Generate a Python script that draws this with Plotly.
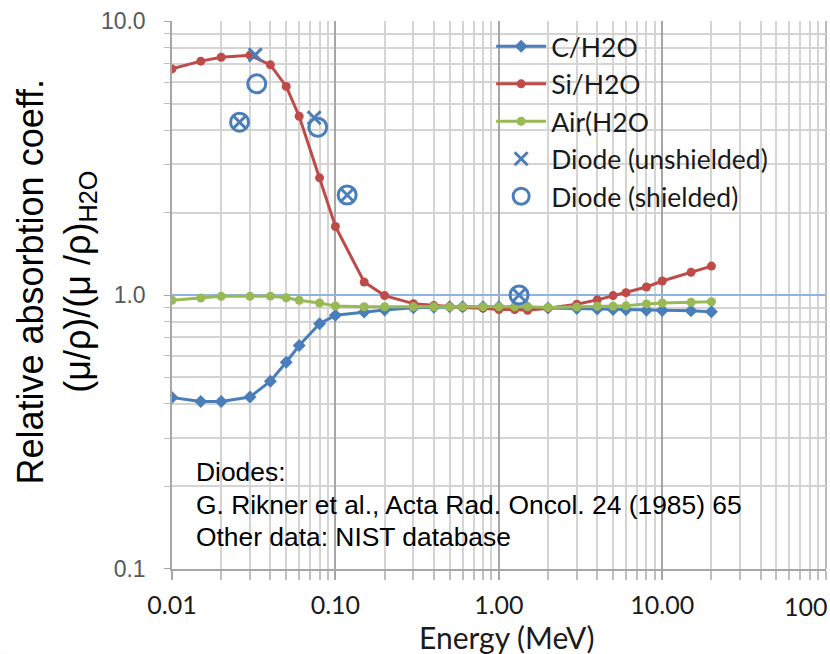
import plotly.graph_objects as go

# Photon energies (MeV) of the NIST tabulation
energy = [0.01, 0.015, 0.02, 0.03, 0.04, 0.05, 0.06, 0.08, 0.1, 0.15, 0.2, 0.3,
          0.4, 0.5, 0.6, 0.8, 1.0, 1.25, 1.5, 2, 3, 4, 5, 6, 8, 10, 15, 20]

# Mass absorption coefficient ratios relative to water
c_h2o = [0.422, 0.408, 0.408, 0.424, 0.484, 0.568, 0.654, 0.786, 0.843, 0.867,
         0.882, 0.898, 0.903, 0.905, 0.905, 0.905, 0.905, 0.903, 0.900, 0.897,
         0.893, 0.888, 0.885, 0.883, 0.880, 0.878, 0.875, 0.868]
si_h2o = [6.70, 7.15, 7.39, 7.52, 6.93, 5.78, 4.50, 2.68, 1.78, 1.115, 0.995,
          0.930, 0.915, 0.905, 0.900, 0.895, 0.885, 0.885, 0.880, 0.895, 0.925,
          0.960, 0.995, 1.020, 1.070, 1.125, 1.210, 1.275]
air_h2o = [0.957, 0.975, 0.989, 0.989, 0.990, 0.977, 0.957, 0.935, 0.912, 0.906,
           0.906, 0.906, 0.906, 0.906, 0.906, 0.906, 0.906, 0.906, 0.906, 0.900,
           0.904, 0.910, 0.910, 0.913, 0.928, 0.935, 0.940, 0.945]

# Diode measurements (Rikner et al. 1985)
diode_u_energy = [0.0259, 0.0323, 0.0741, 0.118, 1.33]
diode_u_ratio = [4.28, 7.54, 4.44, 2.32, 1.0]
diode_s_energy = [0.0259, 0.033, 0.078, 0.118, 1.33]
diode_s_ratio = [4.28, 5.91, 4.10, 2.32, 1.0]

# the last decade label sits against the right border, so it is placed separately
x_tickvals = [0.01, 0.1, 1, 10]
x_ticktext = ["0.01", "0.10", "1.00", "10.00"]
x_edge_label = "100"
y_tickvals = [0.1, 1, 10]
y_ticktext = ["0.1", "1.0", "10.0"]

BLUE = "#4A7EBB"
RED = "#BE4B48"
GREEN = "#98B954"
TICK_FONT = dict(family="Lato", size=25, color="#1a1a1a")
LEGEND_FONT = dict(family="Lato", size=26.5, color="#1a1a1a")

fig = go.Figure()
fig.add_trace(go.Scatter(x=energy, y=c_h2o, name="C/H2O", mode="lines+markers",
                         line=dict(color=BLUE, width=3),
                         marker=dict(symbol="diamond", size=10, color=BLUE)))
fig.add_trace(go.Scatter(x=energy, y=si_h2o, name="Si/H2O", mode="lines+markers",
                         line=dict(color=RED, width=3),
                         marker=dict(symbol="circle", size=9, color=RED)))
fig.add_trace(go.Scatter(x=energy, y=air_h2o, name="Air(H2O", mode="lines+markers",
                         line=dict(color=GREEN, width=3),
                         marker=dict(symbol="circle", size=9, color=GREEN)))
fig.add_trace(go.Scatter(x=diode_u_energy, y=diode_u_ratio, name="Diode (unshielded)",
                         mode="markers",
                         marker=dict(symbol="x-thin-open", size=13, color=BLUE,
                                     line=dict(color=BLUE, width=3))))
fig.add_trace(go.Scatter(x=diode_s_energy, y=diode_s_ratio, name="Diode (shielded)",
                         mode="markers",
                         marker=dict(symbol="circle-open", size=18, color=BLUE,
                                     line=dict(color=BLUE, width=3))))

minor_vals = [m * 10 ** e for e in range(-3, 3) for m in range(2, 10)]
major_grid_x = x_tickvals + [100]

fig.update_xaxes(
    type="log", range=[-2, 2.002], automargin=False,
    tickvals=x_tickvals, ticktext=x_ticktext,
    tickfont=TICK_FONT, ticklabelstandoff=4,
    ticks="outside", ticklen=9, tickcolor="#A6A6A6", tickwidth=1.5,
    showgrid=True, gridcolor="#A6A6A6", gridwidth=1.5,
    showline=True, linecolor="#A6A6A6", linewidth=1.5,
    minor=dict(tickvals=minor_vals + [100], ticks="outside", ticklen=9,
               tickcolor="#BFBFBF", showgrid=True, gridcolor="#D4D4D4",
               gridwidth=1.5),
)
fig.update_yaxes(
    type="log", range=[-1.001, 1.001], automargin=False,
    tickvals=y_tickvals, ticktext=y_ticktext,
    tickfont=dict(family="Liberation Sans", size=23, color="#595959"),
    ticklabelstandoff=14,
    ticks="outside", ticklen=6, tickcolor="#A6A6A6",
    showgrid=True, gridcolor="#8DB4E2", gridwidth=1.5,
    showline=True, linecolor="#A6A6A6", linewidth=1.5,
    minor=dict(tickvals=minor_vals, ticks="outside", ticklen=6,
               tickcolor="#BFBFBF", showgrid=True, gridcolor="#D4D4D4",
               gridwidth=1.5),
)

# darker border line at the last decade on the right
fig.add_shape(type="line", xref="paper", yref="paper", x0=1, x1=1, y0=0, y1=1,
              layer="between", line=dict(color="#A6A6A6", width=1.5))
# white panel behind the legend, above the grid
fig.add_shape(type="rect", xref="paper", yref="paper", layer="between",
              x0=0.426, x1=0.99, y0=0.652, y1=0.988,
              fillcolor="white", line=dict(width=0))
# green slide accent at the lower left corner
fig.add_shape(type="rect", xref="paper", yref="paper",
              x0=-0.263, x1=-0.248, y0=-0.155, y1=-0.2,
              fillcolor="#7DC242", line=dict(width=0))

fig.add_annotation(text=x_edge_label, xref="paper", yref="paper",
                   x=1.0055, y=-0.068, xanchor="right", yanchor="middle",
                   showarrow=False, font=TICK_FONT)

notes = ["Diodes:",
         "G. Rikner et al., Acta Rad. Oncol. 24 (1985) 65",
         "Other data: NIST database"]
note_y = [0.177, 0.117, 0.0575]
for text, yy in zip(notes, note_y):
    fig.add_annotation(text=text, xref="paper", yref="paper", x=0.0335, y=yy,
                       xanchor="left", yanchor="middle", showarrow=False,
                       font=dict(family="Liberation Sans", size=26.4, color="black"))

fig.add_annotation(text="Relative absorbtion coeff.<br>(μ/ρ)/(μ /ρ)<sub>H2O</sub>",
                   xref="paper", yref="paper", x=-0.177, y=0.525,
                   xanchor="center", yanchor="middle", textangle=-90,
                   showarrow=False,
                   font=dict(family="Liberation Sans", size=36, color="black"))
fig.add_annotation(text="Energy (MeV)", xref="paper", yref="paper",
                   x=0.512, y=-0.124, xanchor="center", yanchor="middle",
                   showarrow=False,
                   font=dict(family="Lato", size=30, color="#1a1a1a"))

fig.update_layout(
    width=830, height=654,
    margin=dict(l=172, r=4, t=21, b=85),
    paper_bgcolor="white", plot_bgcolor="white",
    showlegend=True,
    legend=dict(x=0.488, y=0.997, xanchor="left", yanchor="top",
                bgcolor="rgba(0,0,0,0)", borderwidth=0,
                font=LEGEND_FONT, itemwidth=50, tracegroupgap=0),
)

fig.write_html("out.html")
